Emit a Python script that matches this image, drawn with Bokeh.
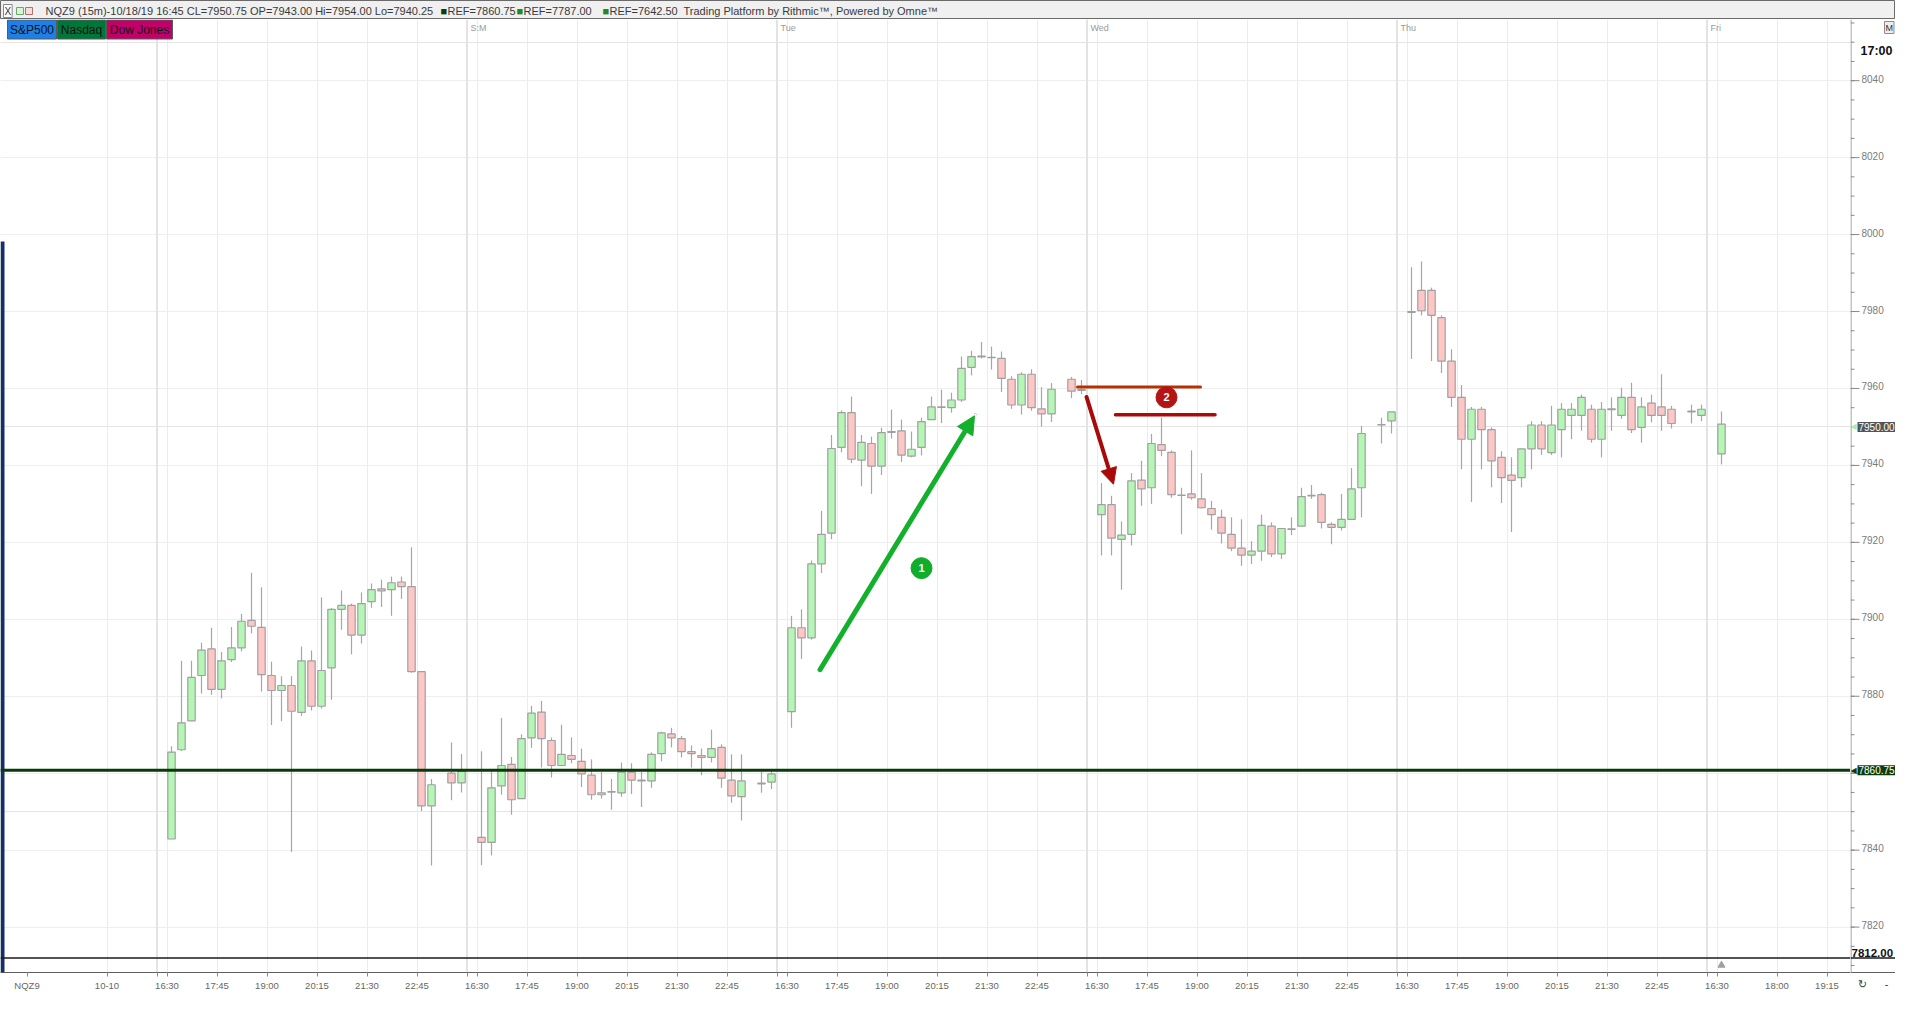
from bokeh.plotting import figure
from bokeh.layouts import column, row
from bokeh.models import (Range1d, FixedTicker, Span, Label, Arrow, NormalHead, Grid,
                          BoxAnnotation, ColumnDataSource)
from bokeh.core.properties import value
from bokeh.embed import file_html
from bokeh.resources import INLINE

# ---- data: NQZ9 15 minute bars, one session per day -------------------------
day_starts = [0, 31, 62, 93, 124]          # bar slot of the 16:30 bar of each day
fri_start = 155
bar_offsets = list(range(27)) + [28, 29]   # 23:15 bar is missing every day

opens = [
    7842.9, 7866.1, 7873.6, 7885.4, 7892.3, 7881.8, 7889.5, 7892.6, 7899.7, 7897.9, 7885.4, 7881.5, 7882.8, 7875.8, 7889.2,
    7877.4, 7887.4, 7902.6, 7903.6, 7895.9, 7904.6, 7907.9, 7907.7, 7909.7, 7908.5, 7886.4, 7851.5, 7860.0, 7857.5,
    7843.3, 7842.0, 7856.7, 7862.3, 7853.4, 7869.2, 7875.9, 7868.5, 7862.0, 7864.6, 7863.1, 7859.5, 7854.4, 7855.1, 7854.9,
    7860.3, 7858.2, 7858.0, 7865.1, 7870.2, 7869.0, 7865.6, 7864.6, 7864.1, 7866.7, 7858.2, 7853.9, 7857.4, 7857.7,
    7876.0, 7897.8, 7895.2, 7914.4, 7922.4, 7944.7, 7953.7, 7941.4, 7945.7, 7939.8, 7948.6, 7949.0, 7942.4, 7944.7, 7951.9,
    7955.1, 7955.0, 7957.0, 7965.5, 7968.2, 7968.1, 7967.8, 7962.4, 7955.7, 7963.7, 7954.7, 7953.4, 7962.4, 7959.5,
    7927.2, 7929.8, 7920.8, 7922.1, 7936.2, 7934.2, 7945.4, 7943.4, 7932.3, 7932.6, 7931.3, 7928.8, 7926.5, 7922.1, 7918.5,
    7916.7, 7917.7, 7924.2, 7917.0, 7923.4, 7924.2, 7932.1, 7932.4, 7924.7, 7923.9, 7926.0, 7934.2, 7950.5, 7951.6,
    7979.8, 7985.5, 7985.5, 7978.4, 7967.1, 7957.7, 7946.8, 7954.6, 7949.3, 7942.1, 7937.5, 7936.8, 7944.3, 7950.5, 7943.3,
    7949.3, 7953.0, 7953.0, 7954.6, 7946.8, 7954.5, 7953.0, 7957.7, 7949.9, 7956.2, 7955.2, 7954.6, 7953.9, 7953.0,
    7943.0,
]
highs = [
    7867.0, 7889.2, 7889.2, 7893.9, 7897.8, 7891.5, 7898.0, 7901.4, 7912.1, 7908.3, 7889.0, 7885.2, 7885.2, 7892.9, 7891.9,
    7905.7, 7902.9, 7907.5, 7904.1, 7907.0, 7909.3, 7910.3, 7911.1, 7911.1, 7918.7, 7886.5, 7858.5, 7868.0, 7865.0,
    7865.7, 7860.9, 7874.4, 7864.2, 7870.1, 7877.5, 7878.8, 7869.3, 7872.6, 7869.3, 7866.4, 7863.6, 7860.3, 7858.5, 7862.8,
    7862.6, 7860.3, 7865.4, 7870.8, 7871.8, 7869.7, 7867.2, 7866.4, 7871.3, 7867.5, 7864.9, 7864.9, 7860.4, 7860.5,
    7900.9, 7902.6, 7915.3, 7928.2, 7947.9, 7954.3, 7957.9, 7947.9, 7947.5, 7949.8, 7954.5, 7951.9, 7948.8, 7952.4, 7957.9,
    7959.7, 7958.9, 7968.3, 7969.8, 7972.1, 7970.9, 7969.6, 7963.2, 7964.2, 7965.0, 7960.3, 7961.4, 7963.0, 7962.2,
    7935.4, 7932.1, 7925.4, 7938.0, 7941.2, 7948.2, 7952.4, 7943.9, 7934.2, 7943.9, 7938.0, 7930.8, 7928.5, 7926.5, 7926.0,
    7920.3, 7927.2, 7925.2, 7923.6, 7926.5, 7934.2, 7934.9, 7932.9, 7925.2, 7932.6, 7939.3, 7950.3, 7952.4, 7953.9,
    7991.5, 7993.0, 7986.2, 7979.0, 7970.2, 7960.9, 7955.2, 7955.2, 7949.9, 7943.7, 7942.1, 7944.3, 7951.5, 7951.5, 7955.5,
    7956.2, 7956.2, 7958.4, 7955.8, 7956.5, 7957.7, 7960.2, 7961.5, 7957.7, 7958.4, 7963.7, 7955.5, 7955.8, 7955.8,
    7954.0,
]
lows = [
    7842.9, 7865.8, 7873.6, 7880.7, 7880.4, 7879.4, 7888.9, 7891.7, 7896.3, 7881.2, 7872.5, 7873.5, 7839.6, 7874.9, 7876.3,
    7876.8, 7879.1, 7897.3, 7890.9, 7893.7, 7903.0, 7903.2, 7900.9, 7905.3, 7886.1, 7850.2, 7836.0, 7853.0, 7855.0,
    7836.1, 7838.6, 7854.4, 7849.2, 7853.4, 7866.6, 7861.5, 7858.9, 7862.0, 7862.6, 7856.4, 7853.1, 7853.4, 7850.5, 7853.9,
    7854.6, 7851.2, 7856.2, 7863.1, 7866.7, 7864.1, 7861.5, 7859.5, 7862.8, 7856.2, 7852.3, 7847.7, 7854.9, 7855.9,
    7871.8, 7889.7, 7894.7, 7912.0, 7920.8, 7943.4, 7940.6, 7934.6, 7932.6, 7937.5, 7947.0, 7940.9, 7942.1, 7942.6, 7951.9,
    7951.0, 7953.7, 7956.5, 7963.4, 7967.8, 7964.9, 7959.1, 7954.7, 7953.2, 7954.2, 7950.1, 7951.3, 7957.5, 7958.5,
    7916.6, 7916.6, 7907.7, 7919.2, 7929.5, 7930.0, 7942.4, 7931.6, 7922.1, 7931.1, 7928.8, 7923.3, 7919.7, 7917.7, 7913.9,
    7914.4, 7915.2, 7916.2, 7915.7, 7921.9, 7924.2, 7931.3, 7923.6, 7919.5, 7923.1, 7926.0, 7926.5, 7945.7, 7948.3,
    7967.7, 7979.0, 7967.1, 7964.0, 7955.2, 7939.0, 7930.5, 7939.0, 7934.3, 7930.2, 7922.7, 7934.3, 7939.0, 7942.7, 7942.7,
    7942.1, 7946.8, 7949.0, 7945.9, 7942.1, 7949.0, 7952.1, 7948.4, 7945.9, 7951.2, 7949.0, 7949.6, 7950.9, 7951.5,
    7940.25,
]
closes = [
    7865.5, 7873.1, 7884.9, 7892.0, 7881.8, 7889.2, 7892.6, 7899.5, 7898.2, 7885.6, 7881.5, 7882.8, 7876.1, 7889.2, 7877.4,
    7886.7, 7902.6, 7903.6, 7895.9, 7904.1, 7907.7, 7907.4, 7909.5, 7908.5, 7886.4, 7851.5, 7857.0, 7857.5, 7860.5,
    7842.0, 7856.2, 7862.0, 7853.1, 7869.0, 7875.6, 7869.0, 7862.0, 7864.9, 7863.6, 7859.8, 7854.4, 7854.9, 7855.2, 7860.3,
    7858.2, 7858.0, 7864.9, 7870.5, 7869.2, 7865.6, 7865.1, 7864.1, 7866.4, 7858.7, 7854.1, 7858.0, 7857.2, 7859.8,
    7897.8, 7895.2, 7914.4, 7922.1, 7944.4, 7953.7, 7941.6, 7946.0, 7939.8, 7948.5, 7948.8, 7942.7, 7944.2, 7951.4, 7955.2,
    7955.2, 7957.0, 7965.2, 7968.3, 7968.4, 7968.0, 7962.6, 7955.7, 7963.7, 7955.0, 7953.4, 7959.8, 7959.3, 7959.7,
    7929.8, 7921.1, 7921.9, 7936.0, 7933.9, 7945.7, 7943.9, 7932.4, 7932.2, 7931.6, 7929.0, 7927.2, 7922.4, 7918.5, 7916.7,
    7917.7, 7924.4, 7917.0, 7923.6, 7923.5, 7931.9, 7932.2, 7925.2, 7923.9, 7926.0, 7933.9, 7948.3, 7950.6, 7953.9,
    7980.0, 7980.2, 7979.0, 7967.1, 7957.7, 7946.8, 7954.6, 7949.3, 7941.2, 7936.8, 7936.1, 7944.3, 7950.5, 7944.3, 7950.5,
    7954.6, 7954.6, 7957.7, 7946.8, 7954.6, 7954.7, 7957.7, 7949.3, 7955.2, 7953.0, 7953.0, 7950.9, 7954.1, 7954.6,
    7950.75,
]

slots = [d + k for d in day_starts for k in bar_offsets] + [fri_start]

# axis ticks
tick_times = ["16:30", "17:45", "19:00", "20:15", "21:30", "22:45"]
tick_steps = [0, 5, 10, 15, 20, 25]
fri_times = ["16:30", "18:00", "19:15"]
fri_steps = [0, 6, 11]
first_date = "10-10"
symbol_slot = -14
day_names = ["", "S:M", "Tue", "Wed", "Thu", "Fri"]
price_ticks = list(range(7820, 8041, 20))
price_minor = list(range(7810, 8056, 5))

ref_level = 7860.75
last_price = 7950.0
low_mark = 7812.0

# drawn annotations (bar slot, price)
green_arrow = (65.3, 7886.9, 80.75, 7952.9)
red_arrow = (91.95, 7957.8, 94.65, 7935.1)
red_line_a = (91.05, 103.35, 7960.4)
red_line_b = (94.85, 104.8, 7953.15)
badge_1 = (75.45, 7913.3)
badge_2 = (99.95, 7957.7)

FONT = "Liberation Sans"
W, H_HDR, H_MAIN = 1895, 19, 976
MAIN_W, SIDE_W = 1850, 45
BOTTOM = 23
X0 = -16.65
X1 = X0 + MAIN_W / 10.0
Y0, Y1 = 7808.2, 8055.9
FRAME_H = H_MAIN - BOTTOM


def fx(px):
    return X0 + px * (X1 - X0) / MAIN_W


def fy(py):
    return Y1 - py * (Y1 - Y0) / FRAME_H


# ---- header strip -----------------------------------------------------------
hdr = figure(width=W, height=H_HDR, x_range=Range1d(0, W), y_range=Range1d(0, H_HDR),
             toolbar_location=None, output_backend="svg", x_axis_location=None,
             y_axis_location=None, min_border=0)
hdr.grid.visible = False
hdr.background_fill_color = "#f0f0f0"
hdr.border_fill_color = "#f0f0f0"
hdr.outline_line_color = "#6a6a6a"
hdr.add_layout(Label(x=3, y=8.5, text="X", text_baseline="middle", text_font=FONT,
                     text_font_size="10px", text_color="#333333", background_fill_color="white",
                     border_line_color="#8a8a8a", padding=1))
hdr.quad(left=[16, 25], right=[23, 32], bottom=[5, 5], top=[12, 12],
         fill_color=["#d8f5d8", "#f7dede"], line_color=["#6aa86a", "#b07070"])
hdr_parts = [
    (45, "NQZ9 (15m)-10/18/19 16:45 CL=7950.75 OP=7943.00 Hi=7954.00 Lo=7940.25", "#3a3a3a"),
    (440, "\u25a0", "#0b3d0b"), (447, "REF=7860.75", "#3a3a3a"),
    (516, "\u25a0", "#1f8a1f"), (523, "REF=7787.00", "#3a3a3a"),
    (602, "\u25a0", "#1f8a1f"), (609, "REF=7642.50", "#3a3a3a"),
    (683, "Trading Platform by Rithmic\u2122, Powered by Omne\u2122", "#3a3a3a"),
]
for hx, txt, col in hdr_parts:
    hdr.add_layout(Label(x=hx, y=8.5, text=txt, text_baseline="middle", text_font=FONT,
                         text_font_size="11px", text_color=col))

# ---- main chart ---------------------------------------------------------------
p = figure(width=MAIN_W, height=H_MAIN, x_range=Range1d(X0, X1), y_range=Range1d(Y0, Y1),
           y_axis_location=None, toolbar_location=None, output_backend="svg",
           min_border_left=0, min_border_right=0, min_border_top=0, min_border_bottom=BOTTOM)
p.outline_line_color = None
p.background_fill_color = "white"

# x ticks
xticks, xlabels = [-6], {-6: first_date}
for d in day_starts:
    for s, t in zip(tick_steps, tick_times):
        xticks.append(d + s)
        xlabels[d + s] = t
for s, t in zip(fri_steps, fri_times):
    xticks.append(fri_start + s)
    xlabels[fri_start + s] = t
separators = [d - 1 for d in day_starts] + [fri_start - 1]
for s in separators:
    xticks.append(s)
    xlabels[s] = ""
grid_ticks = sorted(xticks)
xlabels[symbol_slot] = "NQZ9"
p.xaxis.ticker = FixedTicker(ticks=sorted(xticks + [symbol_slot]))
p.xaxis.major_label_overrides = xlabels
p.xaxis.minor_tick_line_color = None
p.xaxis.major_tick_out = 4
p.xaxis.major_tick_in = 0
p.xaxis.axis_line_color = "#606060"
p.xaxis.major_tick_line_color = "#8a8a8a"
p.xaxis.major_label_text_font = FONT
p.xaxis.major_label_text_font_size = "9.5px"
p.xaxis.major_label_text_color = "#666666"
p.xaxis.major_label_standoff = 3
p.xgrid.ticker = FixedTicker(ticks=grid_ticks)
p.xgrid.grid_line_color = "#ececec"
p.add_layout(Grid(dimension=1, ticker=FixedTicker(ticks=price_ticks), grid_line_color="#eeeeee"))

for s in separators:
    p.add_layout(Span(location=s, dimension="height", line_color="#e3e3e3", line_width=2,
                      level="underlay"))

# dark window edge on the left
p.add_layout(BoxAnnotation(right=fx(4), top=fy(222), fill_color="#14306a", fill_alpha=1,
                           line_color=None))

# reference level and lowest price line
p.add_layout(Span(location=ref_level, dimension="width", line_color="#0a3a0a", line_width=3))
p.add_layout(Span(location=low_mark, dimension="width", line_color="#1a1a1a", line_width=1.5))

# candles
xs = [s + 0.45 for s in slots]
up = [c >= o for o, c in zip(opens, closes)]
src = ColumnDataSource(dict(
    x=xs, high=highs, low=lows,
    top=[max(o, c) for o, c in zip(opens, closes)],
    bottom=[min(o, c) for o, c in zip(opens, closes)],
    fill=["#b4f7b4" if u else "#ffc6c6" for u in up],
))
p.segment(x0="x", x1="x", y0="low", y1="high", source=src, line_color="#a6a6a6", line_width=1.2)
p.vbar(x="x", width=0.74, top="top", bottom="bottom", source=src, fill_color="fill",
       line_color="#a0a0a0", line_width=1.2)

# last bar marker in the bottom strip
p.scatter(x=[xs[-1]], y=[(low_mark + Y0) / 2], marker="triangle", size=7,
          fill_color="#a0a0a0", line_color="#a0a0a0")

# annotations drawn by the user
gx0, gy0, gx1, gy1 = green_arrow
p.add_layout(Arrow(x_start=gx0, y_start=gy0, x_end=gx1, y_end=gy1, line_color="#13b02c",
                   line_width=5, line_cap="round",
                   end=NormalHead(size=18, fill_color="#13b02c", line_color="#13b02c")))
rx0, ry0, rx1, ry1 = red_arrow
p.add_layout(Arrow(x_start=rx0, y_start=ry0, x_end=rx1, y_end=ry1, line_color="#a80a0a",
                   line_width=4, line_cap="round",
                   end=NormalHead(size=16, fill_color="#a80a0a", line_color="#a80a0a")))
p.segment(x0=[red_line_a[0]], x1=[red_line_a[1]], y0=[red_line_a[2]], y1=[red_line_a[2]],
          line_color="#b83000", line_width=3, line_cap="round")
p.segment(x0=[red_line_b[0]], x1=[red_line_b[1]], y0=[red_line_b[2]], y1=[red_line_b[2]],
          line_color="#b00808", line_width=3.5, line_cap="round")
p.scatter(x=[badge_1[0], badge_2[0]], y=[badge_1[1], badge_2[1]], marker="circle", size=21,
          fill_color=["#10ad2b", "#b51414"], line_color=["#10ad2b", "#b51414"])
p.text(x=[badge_1[0], badge_2[0]], y=[badge_1[1], badge_2[1]], text=["1", "2"],
       text_font=value(FONT), text_font_style="bold", text_font_size="11px",
       text_color="white", text_align="center", text_baseline="middle")

# instrument buttons over the chart
btn_left = [7, 57, 106]
btn_right = [56, 105, 172]
btn_text = ["S&P500", "Nasdaq", "Dow Jones"]
btn_color = ["#1d80e8", "#00773a", "#c2006a"]
p.quad(left=[fx(v) for v in btn_left], right=[fx(v) for v in btn_right],
       top=[fy(0.5)] * 3, bottom=[fy(19.5)] * 3, fill_color=btn_color, line_color="#5a5a5a")
p.text(x=[fx((a + b) / 2) for a, b in zip(btn_left, btn_right)], y=[fy(10.5)] * 3, text=btn_text,
       text_font=value(FONT), text_font_size="12px", text_color="#111111",
       text_align="center", text_baseline="middle")

# day names at the session separators
for s, name in zip(separators, day_names):
    if name:
        p.add_layout(Label(x=s + 0.35, y=fy(8), text=name, text_baseline="middle",
                           text_font=FONT, text_font_size="9px", text_color="#9a9a9a"))

# ---- price scale on the right (its frame lines up with the chart frame) -----
side = figure(width=SIDE_W, height=H_MAIN, x_range=Range1d(0, SIDE_W), y_range=p.y_range,
              toolbar_location=None, output_backend="svg", y_axis_location=None,
              min_border_left=0, min_border_right=0, min_border_top=0, min_border_bottom=BOTTOM)
side.grid.visible = False
side.outline_line_color = None
side.background_fill_color = "white"
side.xaxis.ticker = FixedTicker(ticks=[12, 36])
side.xaxis.major_label_overrides = {12: "\u21bb", 36: "-"}
side.xaxis.minor_tick_line_color = None
side.xaxis.major_tick_line_color = None
side.xaxis.major_tick_out = 4
side.xaxis.major_tick_in = 0
side.xaxis.axis_line_color = "#606060"
side.xaxis.major_label_text_font = "DejaVu Sans"
side.xaxis.major_label_text_font_size = "11px"
side.xaxis.major_label_text_color = "#444444"
side.xaxis.major_label_standoff = 1

side.add_layout(Span(location=0.5, dimension="height", line_color="#8a8a8a", line_width=1))
side.add_layout(Span(location=low_mark, dimension="width", line_color="#1a1a1a", line_width=1.5))
side.segment(x0=[0] * len(price_minor), x1=[4] * len(price_minor), y0=price_minor,
             y1=price_minor, line_color="#8a8a8a", line_width=1)
side.segment(x0=[0] * len(price_ticks), x1=[9] * len(price_ticks), y0=price_ticks,
             y1=price_ticks, line_color="#8a8a8a", line_width=1)
side.text(x=[11] * len(price_ticks), y=price_ticks, text=[str(t) for t in price_ticks],
          text_font=value(FONT), text_font_size="10px", text_color="#7a7a7a",
          text_baseline="middle", y_offset=-2)

side.add_layout(Label(x=0, y=ref_level, text="\u25c0", text_baseline="middle",
                      text_font="DejaVu Sans", text_font_size="8px", text_color="#0b3d0b"))
side.add_layout(Label(x=7, y=ref_level, text="7860.75", text_baseline="middle", text_font=FONT,
                      text_font_size="10px", text_color="white",
                      background_fill_color="#0b3d0b", padding=1))
side.add_layout(Label(x=0, y=last_price, text="\u25c0", text_baseline="middle",
                      text_font="DejaVu Sans", text_font_size="8px", text_color="#a8f0a8"))
side.add_layout(Label(x=7, y=last_price, text="7950.00", text_baseline="middle", text_font=FONT,
                      text_font_size="10px", text_color="white",
                      background_fill_color="#555555", padding=1))
side.add_layout(Label(x=1, y=low_mark, y_offset=1, text="7812.00", text_baseline="bottom",
                      text_font=FONT, text_font_size="11.5px", text_font_style="bold",
                      text_color="#111111"))
side.add_layout(Label(x=10, y=fy(31), text="17:00", text_baseline="middle", text_font=FONT,
                      text_font_size="12.5px", text_font_style="bold", text_color="#111111"))
side.add_layout(Label(x=34, y=fy(2), text="M", text_baseline="top", text_font=FONT,
                      text_font_size="9px", text_color="#333333", background_fill_color="#eeeeee",
                      border_line_color="#8a8a8a", padding=1))

layout = column(hdr, row(p, side))
open("out.html", "w").write(file_html(layout, INLINE))
